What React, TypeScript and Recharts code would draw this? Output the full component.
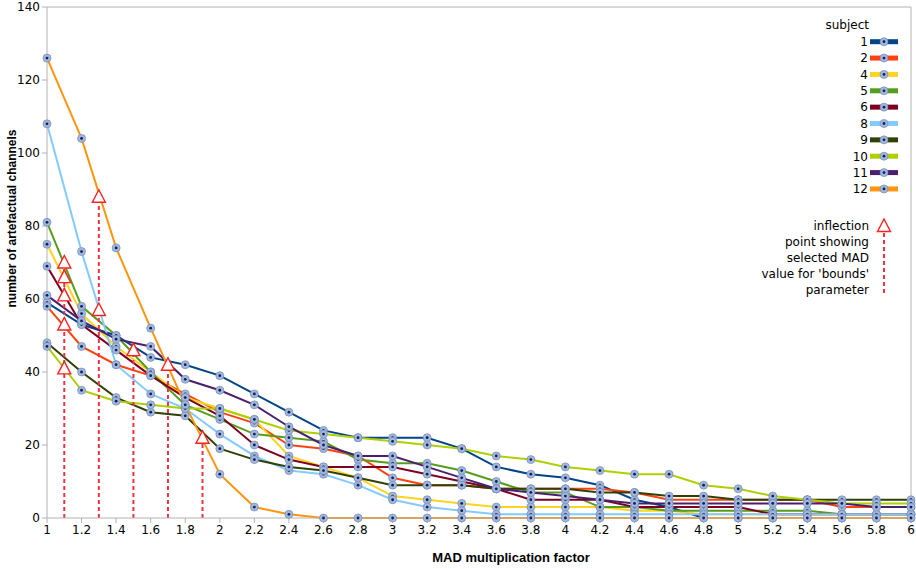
import {
  ComposedChart,
  Line,
  XAxis,
  YAxis,
  ReferenceLine,
  ReferenceDot,
  Legend,
  Label,
} from 'recharts'

const madFactor = [1, 1.2, 1.4, 1.6, 1.8, 2, 2.2, 2.4, 2.6, 2.8, 3, 3.2, 3.4, 3.6, 3.8, 4, 4.2, 4.4, 4.6, 4.8, 5, 5.2, 5.4, 5.6, 5.8, 6]
const yTicks = [0, 20, 40, 60, 80, 100, 120, 140]

const subject1 = [59, 53, 50, 44, 42, 39, 34, 29, 24, 22, 22, 22, 19, 14, 12, 11, 9, 5, 3, 0, 0, 0, 0, 0, 0, 0]
const subject2 = [58, 47, 42, 39, 34, 29, 26, 20, 19, 17, 11, 9, 9, 8, 8, 8, 8, 7, 5, 5, 5, 5, 5, 3, 3, 3]
const subject4 = [75, 56, 47, 40, 33, 30, 27, 17, 14, 11, 6, 5, 4, 3, 3, 3, 3, 2, 2, 1, 1, 1, 1, 1, 1, 1]
const subject5 = [81, 58, 50, 40, 31, 27, 23, 22, 21, 16, 15, 15, 13, 10, 7, 7, 3, 3, 2, 2, 2, 2, 2, 1, 1, 1]
const subject6 = [69, 53, 46, 39, 33, 28, 20, 16, 14, 14, 14, 12, 10, 8, 5, 5, 5, 3, 3, 3, 3, 1, 1, 1, 1, 1]
const subject8 = [108, 73, 42, 34, 30, 23, 17, 13, 12, 9, 5, 3, 2, 1, 1, 1, 1, 1, 1, 1, 1, 1, 1, 1, 1, 1]
const subject9 = [48, 40, 33, 29, 28, 19, 16, 14, 13, 11, 9, 9, 9, 8, 8, 8, 7, 7, 6, 6, 5, 5, 5, 5, 5, 5]
const subject10 = [47, 35, 32, 31, 30, 30, 27, 24, 23, 22, 21, 20, 19, 17, 16, 14, 13, 12, 12, 9, 8, 6, 5, 4, 4, 4]
const subject11 = [61, 54, 49, 47, 38, 35, 31, 25, 20, 17, 17, 14, 11, 8, 7, 6, 5, 4, 4, 4, 4, 4, 4, 4, 3, 3]
const subject12 = [126, 104, 74, 52, 31, 12, 3, 1, 0, 0, 0, 0, 0, 0, 0, 0, 0, 0, 0, 0, 0, 0, 0, 0, 0, 0]

// inflection points (selected MAD for 'bounds')
const inflectionX = [1.1, 1.1, 1.1, 1.1, 1.1, 1.3, 1.3, 1.5, 1.7, 1.9]
const inflectionY = [70, 66, 61, 53, 41, 88, 57, 46, 42, 22]

const inflectionNote = ['inflection', 'point showing', 'selected MAD', "value for 'bounds'", 'parameter']

const subjects = [
  { key: 's1', name: '1', color: '#004586', values: subject1 },
  { key: 's2', name: '2', color: '#ff420e', values: subject2 },
  { key: 's4', name: '4', color: '#ffd320', values: subject4 },
  { key: 's5', name: '5', color: '#579d1c', values: subject5 },
  { key: 's6', name: '6', color: '#7e0021', values: subject6 },
  { key: 's8', name: '8', color: '#83caff', values: subject8 },
  { key: 's9', name: '9', color: '#314004', values: subject9 },
  { key: 's10', name: '10', color: '#aecf00', values: subject10 },
  { key: 's11', name: '11', color: '#4b1f6f', values: subject11 },
  { key: 's12', name: '12', color: '#ff950e', values: subject12 },
]

const rows = madFactor.map((x, i) => {
  const row: Record<string, number> = { x }
  subjects.forEach((s) => {
    row[s.key] = s.values[i]
  })
  return row
})

// one dashed drop line per x, up to the highest triangle there
const dropLines = Array.from(new Set(inflectionX)).map((x) => ({
  x,
  top: Math.max(...inflectionY.filter((_, i) => inflectionX[i] === x)),
}))

const AXIS = '#b3b3b3'
const FONT = '"DejaVu Sans", sans-serif'
const TITLE_FONT = '"Liberation Sans", Arial, sans-serif'
const INFLECTION_RED = '#ff2020'
const DROP_RED = '#ee3344'

function Marker({ cx, cy }: { cx?: number; cy?: number }) {
  if (cx == null || cy == null) return null
  return (
    <g>
      <circle cx={cx} cy={cy} r={4} fill="#a3b7da" stroke="#7189b8" strokeWidth={0.7} />
      <circle cx={cx} cy={cy} r={1.4} fill="#0c1f5e" />
    </g>
  )
}

function Triangle({ cx, cy }: { cx?: number; cy?: number }) {
  if (cx == null || cy == null) return null
  return (
    <polygon
      points={`${cx},${cy - 7} ${cx - 6.5},${cy + 5.5} ${cx + 6.5},${cy + 5.5}`}
      fill="#ffffff"
      stroke={INFLECTION_RED}
      strokeWidth={1.4}
    />
  )
}

function XTitle({ viewBox }: any) {
  return (
    <text
      x={viewBox.x + viewBox.width / 2 + 32}
      y={viewBox.y + 44}
      textAnchor="middle"
      fontFamily={TITLE_FONT}
      fontSize={13}
      fontWeight="bold"
      fill="#000"
    >
      MAD multiplication factor
    </text>
  )
}

function YTitle({ viewBox }: any) {
  const x = viewBox.x + 12
  const y = viewBox.y + viewBox.height / 2 - 44
  return (
    <text
      x={x}
      y={y}
      transform={`rotate(-90, ${x}, ${y})`}
      textAnchor="middle"
      dominantBaseline="central"
      fontFamily={TITLE_FONT}
      fontSize={12}
      fontWeight="bold"
      fill="#000"
    >
      number of artefactual channels
    </text>
  )
}

function SubjectLegend() {
  const textRight = 109
  const swatchX = 110
  const markX = 124
  return (
    <svg width={156} height={300} style={{ fontFamily: FONT, display: 'block' }}>
      <text x={textRight} y={29} textAnchor="end" fontSize={12}>
        subject
      </text>
      {subjects.map((s, i) => {
        const cy = 41.7 + i * 16.36
        return (
          <g key={s.key}>
            <text x={textRight - 1} y={cy + 4.3} textAnchor="end" fontSize={12}>
              {s.name}
            </text>
            <line x1={swatchX} x2={swatchX + 28} y1={cy} y2={cy} stroke={s.color} strokeWidth={5} />
            <Marker cx={markX} cy={cy} />
          </g>
        )
      })}
      {inflectionNote.map((t, i) => (
        <text key={t} x={textRight} y={226 + i * 16 + 4.3} textAnchor="end" fontSize={12}>
          {t}
        </text>
      ))}
      <line x1={markX} x2={markX} y1={233} y2={293} stroke={DROP_RED} strokeWidth={2} strokeDasharray="4 3" />
      <Triangle cx={markX} cy={226} />
    </svg>
  )
}

export default function App() {
  return (
    <div style={{ width: 916, height: 569, fontFamily: FONT, position: 'relative' }}>
      <style>{'body{margin:0}'}</style>
      <ComposedChart width={916} height={569} data={rows} margin={{ top: 7, right: 5, bottom: 0, left: 0 }}>
        <XAxis
          dataKey="x"
          type="number"
          domain={[1, 6]}
          ticks={madFactor}
          interval={0}
          tickFormatter={(v: number) => String(v)}
          height={51}
          stroke={AXIS}
          tickSize={5}
          tick={{ fontSize: 12, fill: '#000' }}
        >
          <Label content={XTitle} />
        </XAxis>
        <YAxis
          type="number"
          domain={[0, 140]}
          ticks={yTicks}
          interval={0}
          width={47}
          stroke={AXIS}
          tickSize={5}
          tick={{ fontSize: 12, fill: '#000' }}
        >
          <Label content={YTitle} />
        </YAxis>
        <ReferenceLine y={140} stroke={AXIS} strokeWidth={1} />
        <ReferenceLine x={6} stroke={AXIS} strokeWidth={1} />
        {subjects.map((s) => (
          <Line
            key={s.key}
            type="linear"
            dataKey={s.key}
            name={s.name}
            stroke={s.color}
            strokeWidth={2}
            dot={(p: any) => <Marker key={`${s.key}-${p.index}`} cx={p.cx} cy={p.cy} />}
            activeDot={false}
            isAnimationActive={false}
          />
        ))}
        {dropLines.map((d) => (
          <ReferenceLine
            key={`drop-${d.x}`}
            segment={[
              { x: d.x, y: 0 },
              { x: d.x, y: d.top },
            ]}
            stroke={DROP_RED}
            strokeWidth={2}
            strokeDasharray="4 3"
          />
        ))}
        {inflectionX.map((x, i) => (
          <ReferenceDot
            key={`infl-${i}`}
            x={x}
            y={inflectionY[i]}
            r={6}
            shape={(p: any) => <Triangle cx={p.cx} cy={p.cy} />}
          />
        ))}
        <Legend
          layout="vertical"
          align="center"
          verticalAlign="middle"
          content={() => <SubjectLegend />}
          wrapperStyle={{ left: 760, top: 0, width: 156, height: 300 }}
        />
      </ComposedChart>
    </div>
  )
}
